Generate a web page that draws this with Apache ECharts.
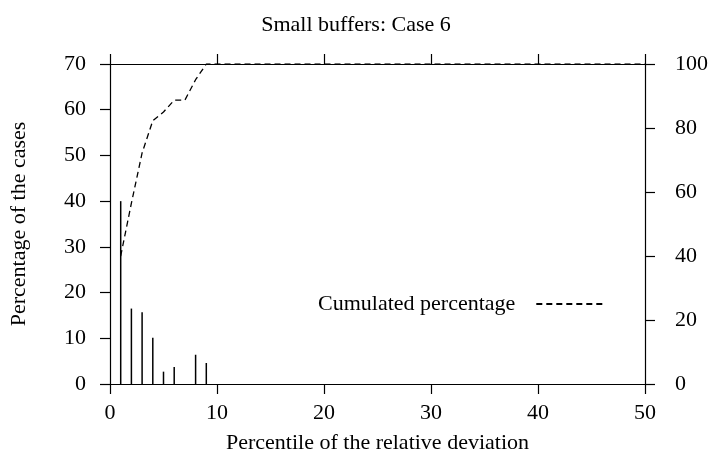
<!DOCTYPE html>
<html>
<head>
<meta charset="utf-8">
<script src="https://cdn.jsdelivr.net/npm/echarts@6/dist/echarts.min.js"></script>
<style>
  html, body { margin: 0; padding: 0; background: #fff; }
  #chart { width: 712px; height: 467px; }
</style>
</head>
<body>
<div id="chart"></div>
<script>
// percentile of relative deviation -> share of cases (%)
var percentiles = [1, 2, 3, 4, 5, 6, 8, 9];
var caseShare = [40, 16.5, 15.7, 10.1, 2.7, 3.7, 6.4, 4.6];

// cumulated percentage (right axis)
var cumPercentiles = [1, 2, 3, 4, 5, 6, 7, 8, 9, 50];
var cumShare = [40, 56.5, 72.2, 82.3, 85, 88.7, 88.7, 95.1, 100, 100];

var font = 'Liberation Serif';
var fs = 22;
var dom = document.getElementById('chart');
var myChart = echarts.init(dom, null, { renderer: 'canvas' });

var axisLine = { show: true, onZero: false, lineStyle: { color: '#000', width: 1.2 } };
var axisTick = { show: true, length: 10, lineStyle: { color: '#000', width: 1.2 } };

var option = {
    animation: false,
    backgroundColor: '#fff',
    title: {
        text: 'Small buffers: Case 6',
        left: 'center',
        top: 9,
        textStyle: { fontFamily: font, fontSize: fs, fontWeight: 'normal', color: '#000' }
    },
    legend: {
        data: ['Cumulated percentage'],
        left: 313,
        top: 288,
        align: 'right',
        itemWidth: 68,
        itemHeight: 14,
        itemGap: 0,
        itemStyle: { opacity: 0 },
        textStyle: { fontFamily: font, fontSize: fs, color: '#000', padding: [0, 16, 0, 0] }
    },
    grid: { left: 109, right: 67, top: 64, bottom: 83 },
    xAxis: [
        {
            type: 'value', min: 0, max: 50, interval: 10,
            name: 'Percentile of the relative deviation',
            nameLocation: 'middle', nameGap: 48,
            nameTextStyle: { fontFamily: font, fontSize: fs, color: '#000' },
            axisLine: axisLine, axisTick: axisTick,
            axisLabel: { fontFamily: font, fontSize: fs, color: '#000', margin: 18 },
            splitLine: { show: false }
        },
        {
            type: 'value', min: 0, max: 50, interval: 10, position: 'top',
            axisLine: axisLine, axisTick: axisTick,
            axisLabel: { show: false }, splitLine: { show: false }
        }
    ],
    yAxis: [
        {
            type: 'value', min: 0, max: 70, interval: 10,
            name: 'Percentage of the cases',
            nameLocation: 'middle', nameGap: 80,
            nameTextStyle: { fontFamily: font, fontSize: fs, color: '#000' },
            axisLine: axisLine, axisTick: axisTick,
            axisLabel: { fontFamily: font, fontSize: fs, color: '#000', margin: 24 },
            splitLine: { show: false }
        },
        {
            type: 'value', min: 0, max: 100, interval: 20, position: 'right',
            axisLine: axisLine, axisTick: axisTick,
            axisLabel: { fontFamily: font, fontSize: fs, color: '#000', margin: 30 },
            splitLine: { show: false }
        }
    ],
    series: [
        {
            name: 'Share',
            type: 'bar',
            xAxisIndex: 0, yAxisIndex: 0,
            barWidth: 1.5,
            itemStyle: { color: '#000' },
            data: percentiles.map(function (p, i) { return [p, caseShare[i]]; })
        },
        {
            name: 'Cumulated percentage',
            type: 'line',
            xAxisIndex: 0, yAxisIndex: 1,
            symbol: 'none',
            itemStyle: { color: '#000' },
            lineStyle: { color: '#000', width: 1.3, type: [6, 4] },
            data: cumPercentiles.map(function (p, i) { return [p, cumShare[i]]; })
        }
    ]
};

myChart.setOption(option);
window.addEventListener('resize', myChart.resize);
</script>
</body>
</html>
